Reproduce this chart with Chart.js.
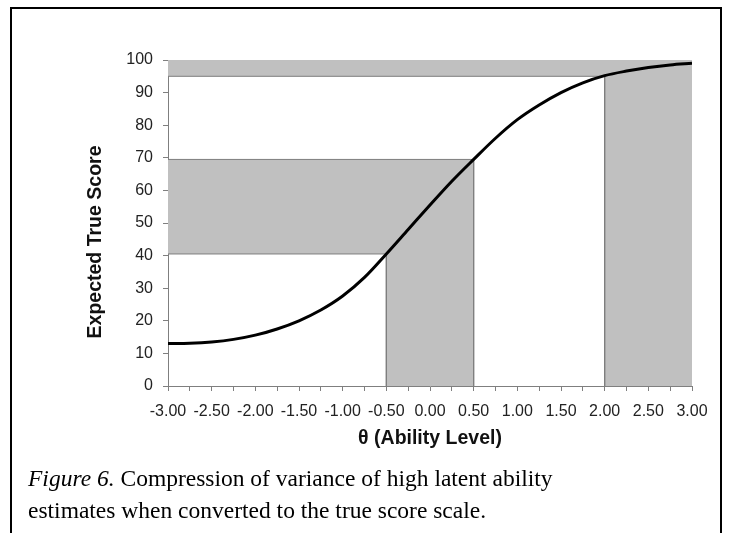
<!DOCTYPE html>
<html>
<head>
<meta charset="utf-8">
<script src="https://cdn.jsdelivr.net/npm/chart.js@4.4.0/dist/chart.umd.min.js"></script>
<style>
  body { margin: 0; background: #fff; }
  #wrap { position: relative; width: 733px; height: 533px; overflow: hidden; background: #fff; }
  #frame { position: absolute; left: 10px; top: 7px; width: 708px; height: 600px; border: 2px solid #000; }
  #chart { position: absolute; left: 0; top: 0; }
  #caption { position: absolute; left: 28px; top: 462px; font-family: 'Liberation Serif', serif; font-size: 23.5px; line-height: 32px; color: #000; white-space: nowrap; }
</style>
</head>
<body>
<div id="wrap">
  <div id="frame"></div>
  <canvas id="chart" width="733" height="533"></canvas>
  <div id="caption"><i>Figure 6.</i> Compression of variance of high latent ability<br>estimates when converted to the true score scale.</div>
</div>
<script>
// Ability levels and expected true score
const theta = [-3, -2.75, -2.5, -2.25, -2, -1.75, -1.5, -1.25, -1, -0.75, -0.5, -0.25,
  0, 0.25, 0.5, 0.75, 1, 1.25, 1.5, 1.75, 2, 2.25, 2.5, 2.75, 3];
const trueScore = [13.0, 13.1, 13.5, 14.3, 15.6, 17.5, 20.0, 23.3, 27.6, 33.3, 40.5, 48.0,
  55.5, 62.8, 69.5, 76.0, 81.7, 86.2, 90.0, 93.0, 95.2, 96.6, 97.7, 98.5, 99.0];

// Cut points marked with drop lines
const cutTheta = [-0.5, 0.5, 2.0];
const cutScore = [40.5, 69.5, 95];

const thetaMin = -3, thetaMax = 3;
const scoreMin = 0, scoreMax = 100;

const shade = '#c0c0c0';
const edge = '#7f7f7f';

function band(points, fill) {
  return {
    data: points,
    fill: fill,
    backgroundColor: shade,
    borderColor: shade,
    borderWidth: 0,
    pointRadius: 0,
    tension: 0,
    order: 3
  };
}

const datasets = [];

// curve
datasets.push({
  data: theta.map((t, i) => ({ x: t, y: trueScore[i] })),
  borderColor: '#000',
  borderWidth: 3,
  pointRadius: 0,
  fill: false,
  cubicInterpolationMode: 'monotone',
  order: 0
});

// drop lines from the curve to both axes
cutTheta.forEach((t, i) => {
  datasets.push({
    data: [{ x: thetaMin, y: cutScore[i] }, { x: t, y: cutScore[i] }, { x: t, y: scoreMin }],
    borderColor: edge,
    borderWidth: 1,
    pointRadius: 0,
    fill: false,
    tension: 0,
    order: 1
  });
});

// shaded region around the middle interval
datasets.push(band([{ x: thetaMin, y: cutScore[1] }, { x: cutTheta[1], y: cutScore[1] }], { value: cutScore[0] }));
datasets.push(band([{ x: cutTheta[0], y: cutScore[1] }, { x: cutTheta[1], y: cutScore[1] }], 'origin'));

// shaded region for the high interval
datasets.push(band([{ x: thetaMin, y: scoreMax }, { x: thetaMax, y: scoreMax }], { value: cutScore[2] }));
datasets.push(band([{ x: cutTheta[2], y: scoreMax }, { x: thetaMax, y: scoreMax }], 'origin'));

const tickFont = { family: "'Liberation Sans', Arial, sans-serif", size: 16 };
const titleFont = { family: "'Liberation Sans', Arial, sans-serif", size: 19.5, weight: 'bold' };

// Excel sat the y title a little below the plot centre; trailing spaces shift it down
const yTitle = 'Expected True Score' + '\u00a0'.repeat(7);

new Chart(document.getElementById('chart'), {
  type: 'line',
  data: { datasets: datasets },
  options: {
    responsive: false,
    animation: false,
    layout: { padding: { left: 80, top: 60, right: 41, bottom: 79 } },
    plugins: { legend: { display: false }, tooltip: { enabled: false } },
    scales: {
      x: {
        type: 'linear',
        min: thetaMin,
        max: thetaMax,
        afterFit: function(scale) { scale.height = 68; },
        border: { display: true, color: edge, width: 1 },
        grid: { drawOnChartArea: false, drawTicks: true, tickLength: 5, color: edge },
        ticks: {
          stepSize: 0.25,
          autoSkip: false,
          maxRotation: 0,
          padding: 11,
          color: '#222',
          font: tickFont,
          callback: function(value) {
            return Math.abs(value * 2 - Math.round(value * 2)) < 1e-9 ? value.toFixed(2) : '';
          }
        },
        title: { display: true, text: 'θ (Ability Level)', color: '#111', font: titleFont, padding: { top: 4, bottom: 4 } }
      },
      y: {
        min: scoreMin,
        max: scoreMax,
        afterFit: function(scale) { scale.width = 88; },
        border: { display: true, color: edge, width: 1 },
        grid: { drawOnChartArea: false, drawTicks: true, tickLength: 5, color: edge },
        ticks: { stepSize: 10, padding: 10, color: '#222', font: tickFont },
        title: { display: true, text: yTitle, color: '#111', font: titleFont, padding: { top: 4, bottom: 4 } }
      }
    }
  }
});
</script>
</body>
</html>
